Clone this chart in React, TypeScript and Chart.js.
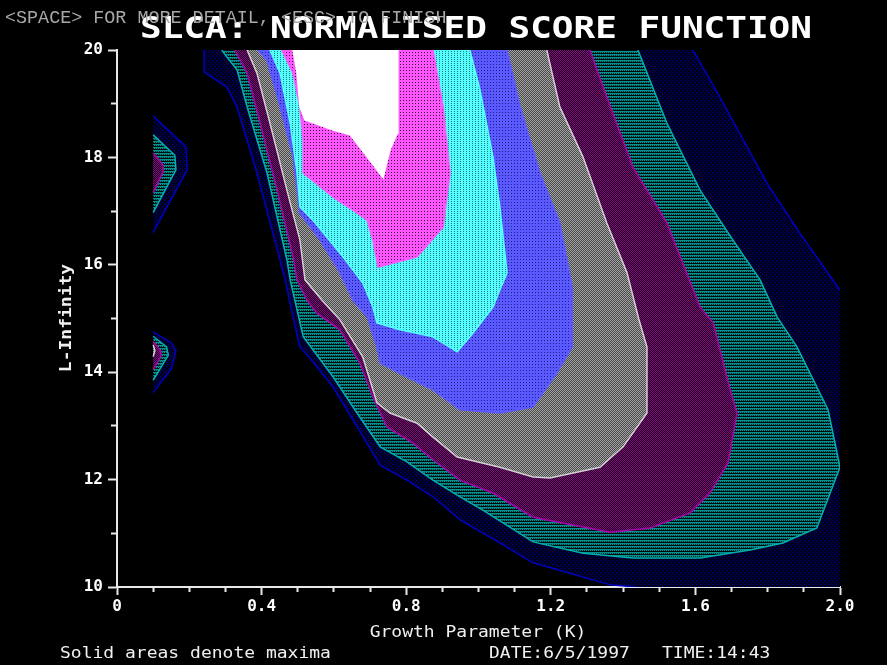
import React, { useEffect, useRef } from 'react';
import { Chart, registerables } from 'chart.js';

Chart.register(...registerables);

type Pt = [number, number];

// ---- axes ----
const xRange: Pt = [0, 2];
const yRange: Pt = [10, 20];
const xTickLabels = [0, 0.4, 0.8, 1.2, 1.6, 2.0];
const yTickLabels = [10, 12, 14, 16, 18, 20];
const xMinorStep = 0.1;
const yMinorStep = 1;

// ---- texts ----
const titleText = 'SLCA: NORMALISED SCORE FUNCTION';
const promptText = '<SPACE> FOR MORE DETAIL, <ESC> TO FINISH';
const xAxisTitle = 'Growth Parameter (K)';
const yAxisTitle = 'L-Infinity';
const footerNote = 'Solid areas denote maxima';
const dateText = 'DATE:6/5/1997';
const timeText = 'TIME:14:43';

// ---- score contour boundaries: [K, L-Infinity] ----
// level 1 (lowest), split into its two boundary curves
const navyLeft: Pt[] = [[0.241, 20.0], [0.241, 19.59], [0.304, 19.31], [0.332, 18.94], [0.387, 17.71], [0.451, 16.09], [0.465, 15.72], [0.487, 15.03], [0.506, 14.47], [0.534, 14.26], [0.598, 13.72], [0.653, 13.11], [0.728, 12.27], [0.802, 11.99], [0.874, 11.68], [0.949, 11.25], [1.059, 10.82], [1.151, 10.45], [1.364, 10.04], [1.438, 10.0]];
const navyRight: Pt[] = [[2.0, 15.53], [1.889, 16.59], [1.798, 17.52], [1.668, 19.12], [1.593, 20.0]];
const navyBlobUpper: Pt[] = [[0.10, 18.77], [0.191, 18.20], [0.194, 17.77], [0.10, 16.60]];
const navyBlobLower: Pt[] = [[0.10, 14.75], [0.151, 14.54], [0.163, 14.40], [0.151, 14.07], [0.10, 13.62]];

// level 2
const tealMain: Pt[] = [[0.290, 20.0], [0.304, 19.87], [0.332, 19.63], [0.360, 18.94], [0.415, 17.71], [0.470, 16.09], [0.479, 15.72], [0.515, 14.66], [0.598, 13.91], [0.664, 13.24], [0.728, 12.61], [0.802, 12.33], [0.874, 11.99], [0.949, 11.68], [1.012, 11.43], [1.151, 10.84], [1.289, 10.63], [1.427, 10.54], [1.613, 10.54], [1.751, 10.69], [1.842, 10.82], [1.936, 11.10], [2.0, 12.23], [1.967, 13.30], [1.881, 14.47], [1.826, 15.03], [1.779, 15.72], [1.704, 16.46], [1.613, 17.39], [1.521, 18.64], [1.441, 20.0]];
const tealBlobUpper: Pt[] = [[0.10, 18.42], [0.160, 18.04], [0.163, 17.77], [0.10, 16.97]];
const tealBlobLower: Pt[] = [[0.10, 14.67], [0.137, 14.47], [0.142, 14.32], [0.10, 13.85]];

// level 3
const purpleMain: Pt[] = [[0.326, 20.0], [0.360, 19.57], [0.396, 18.64], [0.443, 17.39], [0.487, 16.15], [0.498, 15.72], [0.526, 15.34], [0.553, 15.10], [0.617, 14.79], [0.672, 14.17], [0.708, 13.54], [0.747, 12.98], [0.819, 12.68], [0.874, 12.37], [0.949, 11.99], [1.040, 11.75], [1.151, 11.30], [1.364, 11.02], [1.474, 11.10], [1.585, 11.38], [1.640, 11.75], [1.690, 12.31], [1.715, 13.24], [1.696, 13.67], [1.649, 14.92], [1.613, 15.21], [1.521, 16.78], [1.427, 17.82], [1.355, 19.12], [1.308, 20.0]];
const purpleBlobUpper: Pt[] = [[0.10, 18.08], [0.127, 17.86], [0.127, 17.73], [0.10, 17.34]];
const purpleBlobLower: Pt[] = [[0.10, 14.57], [0.119, 14.41], [0.121, 14.29], [0.10, 14.05]];

// level 4
const grayMain: Pt[] = [[0.360, 20.0], [0.387, 19.57], [0.423, 18.64], [0.470, 17.39], [0.506, 16.46], [0.520, 15.72], [0.567, 15.34], [0.617, 14.97], [0.680, 14.28], [0.719, 13.43], [0.755, 13.24], [0.830, 13.05], [0.874, 12.79], [0.941, 12.42], [1.059, 12.23], [1.151, 12.05], [1.198, 12.03], [1.336, 12.23], [1.400, 12.61], [1.466, 13.24], [1.466, 14.47], [1.443, 15.0], [1.411, 15.85], [1.355, 16.78], [1.289, 18.01], [1.225, 18.94], [1.189, 20.0]];
const grayBlobLower: Pt[] = [[0.10, 14.51], [0.105, 14.40], [0.10, 14.29]];

// level 5
const blueMain: Pt[] = [[0.390, 20.0], [0.415, 19.81], [0.451, 18.94], [0.487, 18.01], [0.506, 16.96], [0.562, 16.46], [0.617, 15.85], [0.653, 15.34], [0.692, 15.03], [0.719, 14.47], [0.728, 14.17], [0.802, 13.91], [0.874, 13.67], [0.949, 13.30], [1.059, 13.24], [1.151, 13.35], [1.217, 13.99], [1.259, 14.47], [1.259, 15.59], [1.225, 16.78], [1.170, 17.71], [1.115, 18.94], [1.079, 20.0]];

// level 6
const cyanMain: Pt[] = [[0.423, 20.0], [0.451, 19.57], [0.479, 18.64], [0.498, 17.71], [0.506, 17.08], [0.542, 16.83], [0.625, 16.15], [0.680, 15.66], [0.708, 15.21], [0.719, 14.92], [0.783, 14.79], [0.874, 14.66], [0.941, 14.38], [0.985, 14.73], [1.040, 15.21], [1.059, 15.53], [1.079, 15.85], [1.059, 17.08], [1.040, 18.01], [1.004, 19.26], [0.976, 20.0]];

// level 7
const magentaMain: Pt[] = [[0.456, 20.0], [0.487, 19.57], [0.506, 18.94], [0.515, 18.32], [0.515, 17.71], [0.598, 17.26], [0.653, 17.02], [0.692, 16.83], [0.708, 16.46], [0.722, 15.96], [0.830, 16.15], [0.902, 16.70], [0.921, 17.71], [0.902, 18.94], [0.874, 20.0]];

// level 8 (maximum, solid)
const whiteMain: Pt[] = [[0.487, 20.0], [0.498, 19.57], [0.506, 18.94], [0.520, 18.70], [0.598, 18.51], [0.645, 18.42], [0.692, 18.01], [0.736, 17.62], [0.755, 18.14], [0.775, 18.45], [0.777, 20.0]];

const near = (a: number, b: number) => Math.abs(a - b) < 1e-6;

export default function App() {
  const ref = useRef<HTMLCanvasElement>(null);

  useEffect(() => {
    document.body.style.margin = '0';
    document.body.style.background = '#000';
    const canvas = ref.current!;
    const c2d = canvas.getContext('2d')!;

    const tile = (w: number, h: number, base: string, marks: Array<[number, number, string]>) => {
      const t = document.createElement('canvas');
      t.width = w; t.height = h;
      const g = t.getContext('2d')!;
      g.fillStyle = base; g.fillRect(0, 0, w, h);
      marks.forEach(([x, y, col]) => { g.fillStyle = col; g.fillRect(x, y, 1, 1); });
      return c2d.createPattern(t, 'repeat')!;
    };

    const look = {
      navy: { fill: tile(4, 4, '#00001e', [[0, 0, '#0000a8'], [2, 2, '#0000a8']]), line: '#0000c0' },
      teal: { fill: tile(2, 3, '#009090', [[1, 1, '#002c2c'], [0, 2, '#000c0c'], [1, 2, '#000c0c']]), line: '#00b0b0' },
      purple: { fill: tile(2, 2, '#100010', [[0, 0, '#8c008c'], [1, 1, '#8c008c']]), line: '#aa00aa' },
      gray: { fill: tile(2, 2, '#484848', [[0, 0, '#a4a4a4'], [1, 1, '#a4a4a4']]), line: '#d0d0d0' },
      blue: { fill: tile(3, 3, '#5a5aff', [[1, 1, '#1c1c90']]), line: '#5a5aff' },
      cyan: { fill: tile(3, 2, '#55ffff', [[1, 1, '#168080']]), line: '#55ffff' },
      magenta: { fill: tile(3, 3, '#ff55ff', [[1, 1, '#3a003a']]), line: '#ff55ff' },
      white: { fill: '#ffffff', line: '#ffffff' },
    };

    const toData = (pts: Pt[]) => pts.map(([x, y]) => ({ x, y }));
    const base = { type: 'line' as const, pointRadius: 0, pointHoverRadius: 0, tension: 0, borderWidth: 1.5 };
    const area = (pts: Pt[], st: { fill: any; line: string }, order: number, stroke = true) => ({
      ...base, data: toData(pts), backgroundColor: st.fill, borderColor: st.line,
      borderWidth: stroke ? 1.5 : 0, fill: 'shape', order,
    });
    const curve = (pts: Pt[], st: { fill: any; line: string }, order: number) => ({
      ...base, data: toData(pts), borderColor: st.line, backgroundColor: 'transparent', fill: false, order,
    });

    const corner: Pt = [xRange[1], yRange[0]];
    const datasets: any[] = [
      area([...navyLeft, corner, ...navyRight], look.navy, 100, false),
      curve(navyLeft, look.navy, 99),
      curve(navyRight, look.navy, 99),
      area(navyBlobUpper, look.navy, 99),
      area(navyBlobLower, look.navy, 99),
      area(tealMain, look.teal, 90),
      area(tealBlobUpper, look.teal, 90),
      area(tealBlobLower, look.teal, 90),
      area(purpleMain, look.purple, 80),
      area(purpleBlobUpper, look.purple, 80),
      area(purpleBlobLower, look.purple, 80),
      area(grayMain, look.gray, 70),
      area(grayBlobLower, look.gray, 70),
      area(blueMain, look.blue, 60),
      area(cyanMain, look.cyan, 50),
      area(magentaMain, look.magenta, 40),
      area(whiteMain, look.white, 30),
    ];

    const tickFont = { family: "'DejaVu Sans Mono', monospace", size: 16, weight: 'bold' as const };
    const axisColor = '#e8e8e8';

    const textPlugin = {
      id: 'screenText',
      afterDraw(chart: any) {
        const g = chart.ctx as CanvasRenderingContext2D;
        const put = (txt: string, x: number, y: number, font: string, color: string, align: CanvasTextAlign, sy = 1, rot = 0) => {
          g.save();
          g.translate(x, y);
          if (rot) g.rotate(rot);
          g.scale(1, sy);
          g.font = font;
          g.fillStyle = color;
          g.textAlign = align;
          g.textBaseline = 'alphabetic';
          g.fillText(txt, 0, 0);
          g.restore();
        };
        put(titleText, 476, 38, "bold 36px 'DejaVu Sans Mono'", '#ffffff', 'center', 0.85);
        put(promptText, 5, 23, "18.4px 'Liberation Mono'", '#a8a8a8', 'left');
        put(xAxisTitle, 478, 637, "18px 'DejaVu Sans Mono'", '#f0f0f0', 'center', 0.85);
        put(footerNote, 60, 658, "18px 'DejaVu Sans Mono'", '#f0f0f0', 'left', 0.85);
        put(dateText, 489, 658, "18px 'DejaVu Sans Mono'", '#f0f0f0', 'left', 0.85);
        put(timeText, 662, 658, "18px 'DejaVu Sans Mono'", '#f0f0f0', 'left', 0.85);
        put(yAxisTitle, 71, 318, "bold 18px 'DejaVu Sans Mono'", '#f0f0f0', 'center', 0.85, -Math.PI / 2);
      },
    };

    const isXMajor = (v: number) => xTickLabels.some((t) => near(t, v));
    const isYMajor = (v: number) => yTickLabels.some((t) => near(t, v));

    const chart = new Chart(canvas, {
      type: 'line',
      data: { datasets },
      options: {
        animation: false,
        responsive: false,
        devicePixelRatio: 1,
        events: [],
        layout: { padding: { top: 50, right: 47, bottom: 0, left: 0 } },
        plugins: { legend: { display: false }, tooltip: { enabled: false }, title: { display: false } },
        scales: {
          x: {
            type: 'linear', position: 'bottom', min: xRange[0], max: xRange[1],
            ticks: {
              stepSize: xMinorStep, autoSkip: false, maxRotation: 0, minRotation: 0, padding: 2,
              color: '#ffffff', font: tickFont,
              callback: (v: any) => {
                const t = xTickLabels.find((q) => near(q, Number(v)));
                return t === undefined ? '' : t === 0 ? '0' : t.toFixed(1);
              },
            },
            grid: {
              display: true, drawOnChartArea: false, drawTicks: true, tickLength: 8,
              tickColor: axisColor, tickWidth: 2,
              tickBorderDash: (ctx: any) => (isXMajor(ctx.tick?.value) ? [] : [4, 100]),
            },
            border: { display: true, color: axisColor, width: 2 },
            afterFit: (s: any) => { s.height = 78; },
          },
          y: {
            type: 'linear', position: 'left', min: yRange[0], max: yRange[1],
            ticks: {
              stepSize: yMinorStep, autoSkip: false, padding: 5,
              color: '#ffffff', font: tickFont,
              callback: (v: any) => {
                const t = yTickLabels.find((q) => near(q, Number(v)));
                return t === undefined ? '' : String(t);
              },
            },
            grid: {
              display: true, drawOnChartArea: false, drawTicks: true, tickLength: 9,
              tickColor: axisColor, tickWidth: 2,
              tickBorderDash: (ctx: any) => (isYMajor(ctx.tick?.value) ? [] : [5, 100]),
              tickBorderDashOffset: (ctx: any) => (isYMajor(ctx.tick?.value) ? 0 : 102),
            },
            border: { display: true, color: axisColor, width: 2 },
            afterFit: (s: any) => { s.width = 117; },
          },
        },
      } as any,
      plugins: [textPlugin],
    });

    return () => chart.destroy();
  }, []);

  return (
    <div style={{ position: 'absolute', left: 0, top: 0, width: 887, height: 665, background: '#000' }}>
      <canvas ref={ref} width={887} height={665} style={{ display: 'block', background: '#000' }} />
    </div>
  );
}
